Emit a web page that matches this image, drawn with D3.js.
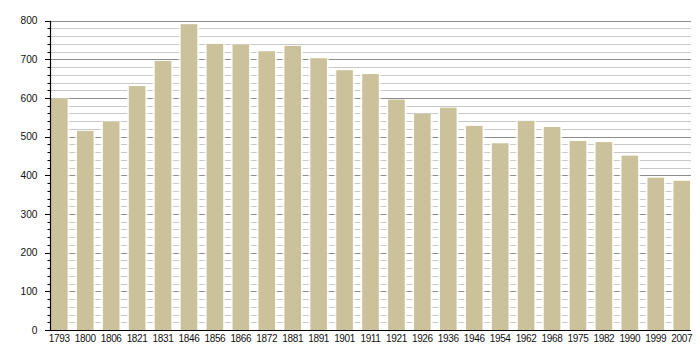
<!DOCTYPE html>
<html>
<head>
<meta charset="utf-8">
<script src="https://cdn.jsdelivr.net/npm/d3@7"></script>
<style>
html,body{margin:0;padding:0;background:#fff;}
svg{display:block;font-family:"Liberation Sans",Arial,sans-serif;}
</style>
</head>
<body>
<svg id="chart" width="700" height="360"></svg>
<script>
const years = ["1793","1800","1806","1821","1831","1846","1856","1866","1872","1881","1891","1901","1911","1921","1926","1936","1946","1954","1962","1968","1975","1982","1990","1999","2007"];
const population = [599,515,539,631,696,791,740,739,721,735,703,672,662,596,559,575,528,483,541,525,489,486,451,394,386];
const majorTicks = [0,100,200,300,400,500,600,700,800];
const minorTicks = d3.range(0, 801, 20);

const svg = d3.select("#chart");
const plotLeft = 50.5, plotRight = 691, plotTop = 20.7, plotBottom = 330;

const x = d3.scaleBand().domain(years).range([51, 690]).paddingInner(0.36).paddingOuter(0);
const y = d3.scaleLinear().domain([0, 800]).range([plotBottom, plotTop]);

// minor grid
svg.append("g").selectAll("line").data(minorTicks.filter(d => d % 100 !== 0)).join("line")
  .attr("x1", plotLeft).attr("x2", plotRight)
  .attr("y1", d => Math.round(y(d)) + 0.5).attr("y2", d => Math.round(y(d)) + 0.5)
  .attr("stroke", "#c8c8c8").attr("stroke-width", 1);
// major grid
svg.append("g").selectAll("line").data(majorTicks.filter(d => d > 0)).join("line")
  .attr("x1", plotLeft).attr("x2", plotRight)
  .attr("y1", d => Math.round(y(d)) + 0.5).attr("y2", d => Math.round(y(d)) + 0.5)
  .attr("stroke", "#8c8c8c").attr("stroke-width", 1);

// white halo behind bars
svg.append("g").selectAll("rect").data(population).join("rect")
  .attr("x", (d, i) => x(years[i]) - 2)
  .attr("width", x.bandwidth() + 4)
  .attr("y", d => y(d))
  .attr("height", d => plotBottom - y(d))
  .attr("fill", "#fff").attr("opacity", 0.8);

// bars
svg.append("g").selectAll("rect").data(population).join("rect")
  .attr("x", (d, i) => x(years[i]))
  .attr("width", x.bandwidth())
  .attr("y", d => y(d))
  .attr("height", d => plotBottom - y(d))
  .attr("fill", "#cbc29b");

// y axis
const yAxisG = svg.append("g").attr("transform", `translate(${plotLeft},0)`);
yAxisG.append("line").attr("x1", 0).attr("x2", 0).attr("y1", plotTop).attr("y2", plotBottom + 0.5)
  .attr("stroke", "#000").attr("stroke-width", 1.2);
yAxisG.selectAll("line.minor").data(minorTicks.filter(d => d % 100 !== 0)).join("line")
  .attr("class", "minor")
  .attr("x1", -3).attr("x2", 0)
  .attr("y1", d => Math.round(y(d)) + 0.5).attr("y2", d => Math.round(y(d)) + 0.5)
  .attr("stroke", "#000");
yAxisG.selectAll("line.major").data(majorTicks).join("line")
  .attr("class", "major")
  .attr("x1", -5.5).attr("x2", 0)
  .attr("y1", d => Math.round(y(d)) + 0.5).attr("y2", d => Math.round(y(d)) + 0.5)
  .attr("stroke", "#000");
yAxisG.selectAll("text").data(majorTicks).join("text")
  .attr("x", -13).attr("y", d => y(d))
  .attr("dy", "0.36em")
  .attr("text-anchor", "end")
  .attr("font-size", 10.2)
  .attr("fill", "#111")
  .text(d => d);

// x axis baseline
svg.append("line").attr("x1", 45).attr("x2", plotRight).attr("y1", plotBottom + 0.5).attr("y2", plotBottom + 0.5)
  .attr("stroke", "#000").attr("stroke-width", 1.2);

// x labels
svg.append("g").selectAll("text").data(years).join("text")
  .attr("x", d => x(d) + x.bandwidth() / 2)
  .attr("y", 341.7)
  .attr("text-anchor", "middle")
  .attr("font-size", 10)
  .attr("letter-spacing", "-0.35px")
  .attr("fill", "#111")
  .text(d => d);
</script>
</body>
</html>
